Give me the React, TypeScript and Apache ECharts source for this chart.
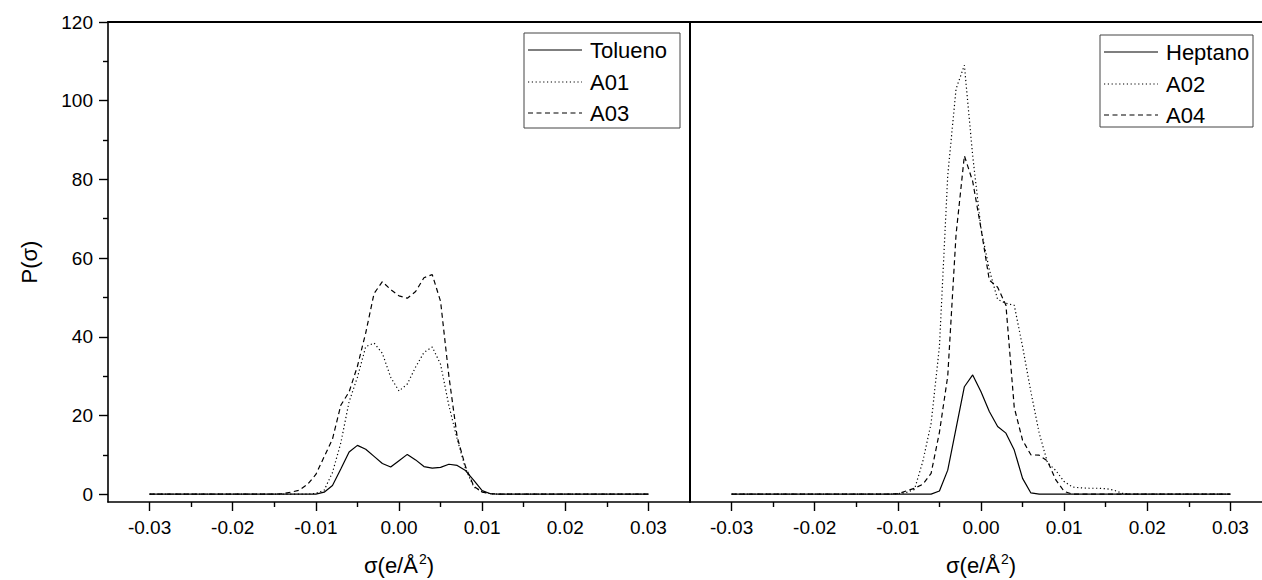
import React, { useEffect, useRef } from "react";
import * as echarts from "echarts";

// ---- Data ----
const leftSigma = [
  -0.03, -0.015, -0.014, -0.013, -0.012, -0.011, -0.01, -0.009, -0.008, -0.007,
  -0.006, -0.005, -0.004, -0.003, -0.002, -0.001, 0.0, 0.001, 0.002, 0.003,
  0.004, 0.005, 0.006, 0.007, 0.008, 0.009, 0.01, 0.011, 0.012, 0.013, 0.03,
];
const tolueno = [
  0, 0, 0, 0, 0, 0, 0, 0.5, 2.2, 6.4, 10.7, 12.4, 11.4, 9.6, 7.8, 6.9, 8.5,
  10.1, 8.7, 7.0, 6.6, 6.8, 7.6, 7.3, 6.0, 3.5, 0.9, 0.1, 0, 0, 0,
];
const a01 = [
  0, 0, 0, 0, 0, 0, 0.2, 1.0, 5.5, 13, 23.5, 29.7, 37.5, 38.4, 35.8, 29.7,
  26.2, 28, 32.3, 36, 37.4, 33, 22.5, 14, 6.5, 1.8, 0.6, 0.1, 0, 0, 0,
];
const a03 = [
  0, 0, 0.1, 0.5, 1.0, 2.5, 5, 9.5, 14, 22.6, 26, 32.5, 41, 51, 54, 52, 50.4,
  49.8, 51.5, 55, 55.8, 49, 30, 14.5, 7, 2, 0.5, 0.1, 0, 0, 0,
];

const rightSigma = [
  -0.03, -0.012, -0.011, -0.01, -0.009, -0.008, -0.007, -0.006, -0.005, -0.004,
  -0.003, -0.002, -0.001, 0.0, 0.001, 0.002, 0.003, 0.004, 0.005, 0.006, 0.007,
  0.008, 0.009, 0.01, 0.011, 0.012, 0.013, 0.014, 0.015, 0.016, 0.017, 0.018,
  0.019, 0.03,
];
const heptano = [
  0, 0, 0, 0, 0, 0, 0, 0, 0.8, 6.1, 16.7, 27.3, 30.3, 26, 21, 17.2, 15.5, 11.2,
  4, 0.3, 0, 0, 0, 0, 0, 0, 0, 0, 0, 0, 0, 0, 0, 0,
];
const a02 = [
  0, 0, 0, 0.1, 0.4, 1.2, 8.3, 18, 37.5, 81, 103, 109, 86, 67.5, 57, 49.5,
  48.5, 48, 37.5, 26, 15.5, 8, 6, 3.2, 1.8, 1.6, 1.5, 1.5, 1.4, 1.0, 0.2, 0, 0,
  0,
];
const a04 = [
  0, 0, 0, 0.1, 0.8, 1.5, 2.5, 5.3, 15.7, 30, 66, 86, 79.5, 67.5, 54.4, 52.6,
  48, 22, 13.7, 10, 9.9, 8.4, 3.6, 0.7, 0, 0, 0, 0, 0, 0, 0, 0, 0, 0,
];

const xMajor = [-0.03, -0.02, -0.01, 0.0, 0.01, 0.02, 0.03];
const xMinor = [-0.025, -0.015, -0.005, 0.005, 0.015, 0.025];
const yMajor = [0, 20, 40, 60, 80, 100, 120];
const yMinor = [10, 30, 50, 70, 90, 110];

const leftNames = ["Tolueno", "A01", "A03"];
const rightNames = ["Heptano", "A02", "A04"];

const FONT = 'Arial, "Liberation Sans", sans-serif';
const DOT: number[] = [1.2, 2.6];
const DASH: number[] = [5, 3.5];
const styles: any[] = ["solid", DOT, DASH];

function pairs(xs: number[], ys: number[]) {
  return xs.map((x, i) => [x, ys[i]]);
}

export default function App() {
  const ref = useRef<HTMLDivElement>(null);

  useEffect(() => {
    if (!ref.current) return;
    const chart = echarts.init(ref.current, undefined, { renderer: "svg" });

    const xAxesFor = (gridIndex: number) => [
      {
        type: "value",
        gridIndex,
        min: -0.035,
        max: 0.035,
        position: "bottom",
        axisLine: { show: true, onZero: false, lineStyle: { color: "#000", width: 1.6 } },
        axisTick: { show: true, inside: false, length: 9, customValues: xMajor, lineStyle: { color: "#000", width: 1.4 } },
        axisLabel: {
          show: true,
          customValues: xMajor,
          formatter: (v: number) => v.toFixed(2),
          fontSize: 19,
          fontFamily: FONT,
          color: "#000",
          margin: 16,
        },
        splitLine: { show: false },
        name: "σ(e/Å{sup|2})",
        nameLocation: "middle",
        nameGap: 50,
        nameTextStyle: {
          fontSize: 22,
          fontFamily: FONT,
          color: "#000",
          rich: {
            sup: { fontSize: 14, fontFamily: FONT, color: "#000", padding: [0, 0, 12, 1] },
          },
        },
      },
      {
        type: "value",
        gridIndex,
        min: -0.035,
        max: 0.035,
        position: "bottom",
        axisLine: { show: false, onZero: false },
        axisTick: { show: true, length: 5, customValues: xMinor, lineStyle: { color: "#000", width: 1.4 } },
        axisLabel: { show: false },
        splitLine: { show: false },
      },
      {
        type: "value",
        gridIndex,
        min: -0.035,
        max: 0.035,
        position: "top",
        axisLine: { show: true, onZero: false, lineStyle: { color: "#000", width: 2 } },
        axisTick: { show: false },
        axisLabel: { show: false },
        splitLine: { show: false },
      },
    ];

    const yAxes = [
      {
        type: "value",
        gridIndex: 0,
        min: -2,
        max: 120,
        position: "left",
        axisLine: { show: true, onZero: false, lineStyle: { color: "#000", width: 1.6 } },
        axisTick: { show: true, length: 9, customValues: yMajor, lineStyle: { color: "#000", width: 1.4 } },
        axisLabel: {
          show: true,
          customValues: yMajor,
          fontSize: 19,
          fontFamily: FONT,
          color: "#000",
          margin: 15,
        },
        splitLine: { show: false },
        name: "P(σ)",
        nameLocation: "middle",
        nameGap: 68,
        nameTextStyle: { fontSize: 22, fontFamily: FONT, color: "#000" },
      },
      {
        type: "value",
        gridIndex: 0,
        min: -2,
        max: 120,
        position: "left",
        axisLine: { show: false, onZero: false },
        axisTick: { show: true, length: 5, customValues: yMinor, lineStyle: { color: "#000", width: 1.4 } },
        axisLabel: { show: false },
        splitLine: { show: false },
      },
      {
        type: "value",
        gridIndex: 1,
        min: -2,
        max: 120,
        position: "left",
        axisLine: { show: true, onZero: false, lineStyle: { color: "#000", width: 2 } },
        axisTick: { show: false },
        axisLabel: { show: false },
        splitLine: { show: false },
      },
    ];

    const mkSeries = (name: string, xs: number[], ys: number[], xi: number, yi: number, lt: any) => ({
      name,
      type: "line",
      xAxisIndex: xi,
      yAxisIndex: yi,
      data: pairs(xs, ys),
      showSymbol: false,
      symbol: "none",
      lineStyle: { color: "#000", width: 1.2, type: lt },
      z: 3,
    });

    const series = [
      mkSeries(leftNames[0], leftSigma, tolueno, 0, 0, styles[0]),
      mkSeries(leftNames[1], leftSigma, a01, 0, 0, styles[1]),
      mkSeries(leftNames[2], leftSigma, a03, 0, 0, styles[2]),
      mkSeries(rightNames[0], rightSigma, heptano, 3, 2, styles[0]),
      mkSeries(rightNames[1], rightSigma, a02, 3, 2, styles[1]),
      mkSeries(rightNames[2], rightSigma, a04, 3, 2, styles[2]),
    ];

    const legendBox = (bx: number, by: number, bw: number, bh: number, names: string[]) => {
      const els: any[] = [
        {
          type: "rect",
          shape: { x: bx, y: by, width: bw, height: bh },
          style: { fill: "#fff", stroke: "#444", lineWidth: 1 },
          z: 100,
        },
      ];
      const rows = [by + 17, by + 49, by + 80];
      names.forEach((n, i) => {
        els.push({
          type: "line",
          shape: { x1: bx + 4, y1: rows[i], x2: bx + 58, y2: rows[i] },
          style: {
            stroke: "#000",
            lineWidth: 1.2,
            lineDash: i === 0 ? null : styles[i],
          },
          z: 101,
        });
        els.push({
          type: "text",
          x: bx + 66,
          y: rows[i],
          style: {
            text: n,
            fontSize: 22,
            fontFamily: FONT,
            fill: "#000",
            verticalAlign: "middle",
            align: "left",
          },
          z: 101,
        });
      });
      return els;
    };

    chart.setOption({
      animation: false,
      backgroundColor: "#fff",
      grid: [
        { left: 108, top: 22, width: 582, height: 480, containLabel: false, outerBoundsMode: "none" },
        { left: 690, top: 22, width: 582, height: 480, containLabel: false, outerBoundsMode: "none" },
      ],
      xAxis: [...xAxesFor(0), ...xAxesFor(1)],
      yAxis: yAxes,
      series,
      graphic: [
        ...legendBox(524, 33, 156, 95, leftNames),
        ...legendBox(1100, 35, 153, 92, rightNames),
      ],
    });

    return () => chart.dispose();
  }, []);

  return (
    <div
      ref={ref}
      style={{ position: "absolute", left: 0, top: 0, width: 1262, height: 580, background: "#fff" }}
    />
  );
}
